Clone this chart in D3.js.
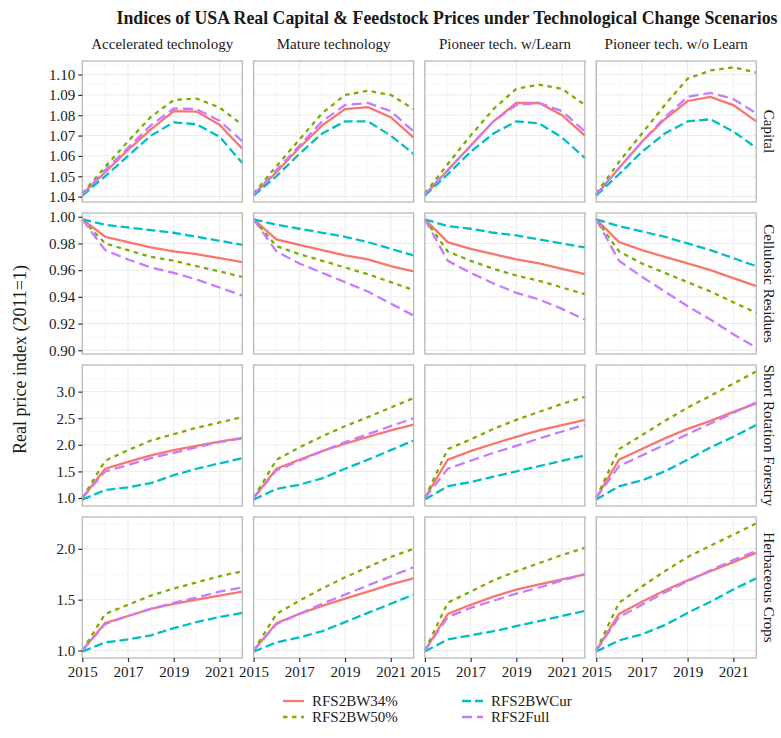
<!DOCTYPE html>
<html>
<head>
<meta charset="utf-8">
<script src="https://cdn.jsdelivr.net/npm/d3@7"></script>
<style>
  body { margin: 0; background: #fff; }
  svg text { font-family: "Liberation Serif", "Times New Roman", serif; fill: #1a1a1a; }
</style>
</head>
<body>
<div id="chart"></div>
<script>

let years = [2015, 2016, 2017, 2018, 2019, 2020, 2021, 2022];
let techs = ["Accelerated technology", "Mature technology", "Pioneer tech. w/Learn", "Pioneer tech. w/o Learn"];
let feeds = ["Capital", "Cellulosic Residues", "Short Rotation Forestry", "Herbaceous Crops"];
let scenarios = ["RFS2BW34%", "RFS2BW50%", "RFS2BWCur", "RFS2Full"];
let xticks = [2015, 2017, 2019, 2021];
let yticks = [
  [1.04, 1.05, 1.06, 1.07, 1.08, 1.09, 1.10],
  [0.90, 0.92, 0.94, 0.96, 0.98, 1.00],
  [1.0, 1.5, 2.0, 2.5, 3.0],
  [1.0, 1.5, 2.0]
];
let ytickfmt = [".2f", ".2f", ".1f", ".1f"];

// values[feed][tech][scenario] -> one value per year
let capital = [
  [[1.0408, 1.052, 1.063, 1.073, 1.082, 1.0818, 1.0753, 1.0635],
   [1.0415, 1.0546, 1.0672, 1.0792, 1.0875, 1.0882, 1.0838, 1.0753],
   [1.0405, 1.050, 1.060, 1.070, 1.0765, 1.0755, 1.0695, 1.0565],
   [1.041, 1.053, 1.064, 1.075, 1.0833, 1.083, 1.0773, 1.0672]],
  [[1.0408, 1.052, 1.064, 1.075, 1.083, 1.084, 1.079, 1.069],
   [1.0415, 1.055, 1.068, 1.081, 1.090, 1.092, 1.090, 1.083],
   [1.0405, 1.050, 1.061, 1.071, 1.077, 1.077, 1.070, 1.061],
   [1.041, 1.053, 1.065, 1.077, 1.085, 1.086, 1.082, 1.072]],
  [[1.0408, 1.053, 1.065, 1.077, 1.086, 1.086, 1.080, 1.070],
   [1.0415, 1.056, 1.070, 1.083, 1.093, 1.095, 1.093, 1.085],
   [1.0405, 1.051, 1.062, 1.071, 1.077, 1.076, 1.069, 1.059],
   [1.041, 1.053, 1.065, 1.077, 1.085, 1.086, 1.082, 1.072]],
  [[1.0408, 1.054, 1.067, 1.078, 1.087, 1.089, 1.085, 1.077],
   [1.0415, 1.057, 1.071, 1.085, 1.098, 1.102, 1.1035, 1.101],
   [1.0405, 1.051, 1.062, 1.071, 1.077, 1.078, 1.072, 1.064],
   [1.041, 1.054, 1.067, 1.079, 1.089, 1.091, 1.088, 1.081]]
];
let residues = [
  [[0.998, 0.985, 0.981, 0.977, 0.974, 0.972, 0.969, 0.966],
   [0.998, 0.980, 0.975, 0.970, 0.967, 0.963, 0.959, 0.955],
   [0.998, 0.994, 0.992, 0.990, 0.988, 0.985, 0.982, 0.979],
   [0.998, 0.975, 0.968, 0.962, 0.958, 0.953, 0.947, 0.941]],
  [[0.998, 0.983, 0.979, 0.975, 0.971, 0.968, 0.963, 0.959],
   [0.998, 0.978, 0.972, 0.967, 0.962, 0.957, 0.951, 0.945],
   [0.998, 0.994, 0.991, 0.988, 0.985, 0.981, 0.976, 0.971],
   [0.998, 0.974, 0.965, 0.958, 0.951, 0.944, 0.935, 0.926]],
  [[0.998, 0.981, 0.976, 0.972, 0.968, 0.965, 0.961, 0.957],
   [0.998, 0.974, 0.967, 0.961, 0.956, 0.952, 0.947, 0.942],
   [0.998, 0.993, 0.991, 0.988, 0.986, 0.983, 0.980, 0.977],
   [0.998, 0.967, 0.958, 0.950, 0.943, 0.938, 0.931, 0.923]],
  [[0.998, 0.981, 0.975, 0.970, 0.965, 0.960, 0.954, 0.948],
   [0.998, 0.974, 0.965, 0.958, 0.951, 0.944, 0.936, 0.928],
   [0.998, 0.993, 0.989, 0.985, 0.980, 0.975, 0.969, 0.963],
   [0.998, 0.967, 0.955, 0.944, 0.933, 0.923, 0.912, 0.902]]
];
let forestry = [
  [[1.0, 1.55, 1.68, 1.80, 1.90, 1.98, 2.06, 2.13],
   [1.0, 1.70, 1.90, 2.08, 2.20, 2.32, 2.42, 2.52],
   [0.97, 1.15, 1.20, 1.28, 1.43, 1.55, 1.65, 1.75],
   [1.0, 1.50, 1.62, 1.75, 1.85, 1.95, 2.05, 2.12]],
  [[1.0, 1.55, 1.72, 1.88, 2.02, 2.15, 2.27, 2.38],
   [1.0, 1.72, 1.95, 2.16, 2.35, 2.52, 2.70, 2.88],
   [0.97, 1.17, 1.25, 1.37, 1.55, 1.72, 1.90, 2.08],
   [1.0, 1.52, 1.70, 1.88, 2.05, 2.20, 2.35, 2.50]],
  [[1.0, 1.72, 1.88, 2.02, 2.15, 2.27, 2.37, 2.47],
   [1.0, 1.92, 2.10, 2.30, 2.47, 2.62, 2.77, 2.90],
   [0.97, 1.22, 1.30, 1.40, 1.50, 1.60, 1.70, 1.80],
   [1.0, 1.55, 1.70, 1.85, 1.98, 2.12, 2.25, 2.38]],
  [[1.0, 1.72, 1.92, 2.12, 2.30, 2.45, 2.62, 2.78],
   [1.0, 1.92, 2.18, 2.45, 2.70, 2.92, 3.15, 3.38],
   [0.97, 1.22, 1.33, 1.50, 1.72, 1.95, 2.15, 2.37],
   [1.0, 1.60, 1.80, 2.00, 2.20, 2.40, 2.60, 2.80]]
];
let herbaceous = [
  [[1.0, 1.27, 1.34, 1.41, 1.46, 1.50, 1.54, 1.58],
   [1.0, 1.36, 1.45, 1.54, 1.61, 1.67, 1.73, 1.78],
   [0.99, 1.08, 1.11, 1.15, 1.22, 1.28, 1.33, 1.37],
   [1.0, 1.26, 1.34, 1.41, 1.47, 1.52, 1.58, 1.62]],
  [[1.0, 1.27, 1.36, 1.44, 1.51, 1.58, 1.65, 1.71],
   [1.0, 1.36, 1.49, 1.61, 1.72, 1.82, 1.92, 2.00],
   [0.99, 1.08, 1.13, 1.19, 1.28, 1.37, 1.46, 1.55],
   [1.0, 1.26, 1.36, 1.46, 1.55, 1.64, 1.73, 1.82]],
  [[1.0, 1.36, 1.45, 1.53, 1.60, 1.65, 1.70, 1.75],
   [1.0, 1.47, 1.58, 1.69, 1.78, 1.86, 1.94, 2.01],
   [0.99, 1.11, 1.15, 1.19, 1.24, 1.29, 1.34, 1.39],
   [1.0, 1.33, 1.42, 1.49, 1.56, 1.62, 1.69, 1.75]],
  [[1.0, 1.36, 1.48, 1.59, 1.69, 1.78, 1.87, 1.96],
   [1.0, 1.47, 1.63, 1.78, 1.92, 2.03, 2.14, 2.25],
   [0.99, 1.10, 1.16, 1.25, 1.37, 1.48, 1.60, 1.71],
   [1.0, 1.33, 1.45, 1.57, 1.68, 1.79, 1.89, 1.98]]
];
let values = [capital, residues, forestry, herbaceous];

let colors = ["#F8766D", "#7CAE00", "#00BFC4", "#C77CFF"];
let dashes = [null, "4.5,4.5", "9,4", "10,5"];

// layout
let W = 781, H = 738;
let panelW = 160, panelH = 141;
let gapX = 11.3, gapY = 11;
let left0 = 82.3, top0 = 61;

let svg = d3.select("#chart").append("svg")
  .attr("width", W)
  .attr("height", H);

let x = d3.scaleLinear().domain([2015, 2022]).range([0, panelW]);

let line = d3.line()
  .x(function(d, i) { return x(years[i]); })
  .y(function(d) { return d; });

// title
svg.append("text")
  .attr("x", 447)
  .attr("y", 24)
  .attr("text-anchor", "middle")
  .style("font-size", "17.8px")
  .style("font-weight", "bold")
  .text("Indices of USA Real Capital & Feedstock Prices under Technological Change Scenarios");

// column strips
techs.forEach(function(t, c) {
  svg.append("text")
    .attr("x", left0 + c * (panelW + gapX) + panelW / 2)
    .attr("y", 49)
    .attr("text-anchor", "middle")
    .style("font-size", "15px")
    .text(t);
});

feeds.forEach(function(f, r) {

  let vals = values[r];
  let all = d3.merge(d3.merge(vals));
  let lo = d3.min(all), hi = d3.max(all);
  let pad = (hi - lo) * 0.05;
  let y = d3.scaleLinear().domain([lo - pad, hi + pad]).range([panelH, 0]);
  let ty = top0 + r * (panelH + gapY);

  // row strip
  svg.append("text")
    .attr("transform", "translate(" + (left0 + 3 * (panelW + gapX) + panelW + 13) + "," + (ty + panelH / 2) + ") rotate(90)")
    .attr("text-anchor", "middle")
    .attr("dy", "0.35em")
    .style("font-size", "15px")
    .text(f);

  techs.forEach(function(t, c) {
    let tx = left0 + c * (panelW + gapX);
    let g = svg.append("g").attr("transform", "translate(" + tx + "," + ty + ")");

    // minor grid
    let ymaj = yticks[r];
    let ystep = ymaj[1] - ymaj[0];
    let yminor = [];
    for (let v = ymaj[0] - ystep / 2; v <= y.domain()[1]; v += ystep) {
      if (v >= y.domain()[0]) yminor.push(v);
    }
    let xminor = [2016, 2018, 2020, 2022];

    g.selectAll(".ymin").data(yminor).enter().append("line")
      .attr("x1", 0).attr("x2", panelW)
      .attr("y1", function(d) { return y(d); })
      .attr("y2", function(d) { return y(d); })
      .attr("stroke", "#f3f3f3").attr("stroke-width", 0.6);
    g.selectAll(".xmin").data(xminor).enter().append("line")
      .attr("y1", 0).attr("y2", panelH)
      .attr("x1", function(d) { return x(d); })
      .attr("x2", function(d) { return x(d); })
      .attr("stroke", "#f3f3f3").attr("stroke-width", 0.6);
    g.selectAll(".ymaj").data(ymaj).enter().append("line")
      .attr("x1", 0).attr("x2", panelW)
      .attr("y1", function(d) { return y(d); })
      .attr("y2", function(d) { return y(d); })
      .attr("stroke", "#ebebeb").attr("stroke-width", 1);
    g.selectAll(".xmaj").data(xticks).enter().append("line")
      .attr("y1", 0).attr("y2", panelH)
      .attr("x1", function(d) { return x(d); })
      .attr("x2", function(d) { return x(d); })
      .attr("stroke", "#ebebeb").attr("stroke-width", 1);

    // series
    vals[c].forEach(function(s, k) {
      g.append("path")
        .datum(s.map(function(v) { return y(v); }))
        .attr("d", line)
        .attr("fill", "none")
        .attr("stroke", colors[k])
        .attr("stroke-width", 2.3)
        .attr("stroke-dasharray", dashes[k]);
    });

    // border
    g.append("rect")
      .attr("width", panelW).attr("height", panelH)
      .attr("fill", "none")
      .attr("stroke", "#b3b3b3").attr("stroke-width", 1.2);

    if (c == 0) {
      let ax = g.append("g")
        .call(d3.axisLeft(y).tickValues(ymaj).tickFormat(d3.format(ytickfmt[r])).tickSize(4).tickPadding(3));
      ax.select(".domain").remove();
      ax.selectAll(".tick line").attr("stroke", "#333").attr("stroke-width", 1.2);
      ax.selectAll(".tick text").style("font-size", "15px").attr("fill", "#1a1a1a")
        .style("font-family", "Liberation Serif");
    }
    if (r == 3) {
      let ax = g.append("g")
        .attr("transform", "translate(0," + panelH + ")")
        .call(d3.axisBottom(x).tickValues(xticks).tickFormat(d3.format("d")).tickSize(4).tickPadding(4));
      ax.select(".domain").remove();
      ax.selectAll(".tick line").attr("stroke", "#333").attr("stroke-width", 1.2);
      ax.selectAll(".tick text").style("font-size", "15px").attr("fill", "#1a1a1a")
        .style("font-family", "Liberation Serif");
    }
  });
});

// y axis title
svg.append("text")
  .attr("transform", "translate(26," + (top0 + 2 * panelH + 1.5 * gapY) + ") rotate(-90)")
  .attr("text-anchor", "middle")
  .style("font-size", "18px")
  .text("Real price index (2011=1)");

// legend
let legendpos = [
  {x: 283, y: 701}, {x: 283, y: 717}, {x: 462, y: 701}, {x: 462, y: 717}
];
scenarios.forEach(function(s, k) {
  let p = legendpos[k];
  svg.append("line")
    .attr("x1", p.x).attr("x2", p.x + 21)
    .attr("y1", p.y).attr("y2", p.y)
    .attr("stroke", colors[k]).attr("stroke-width", 2.3)
    .attr("stroke-dasharray", dashes[k]);
  svg.append("text")
    .attr("x", p.x + 29).attr("y", p.y)
    .attr("dy", "0.35em")
    .style("font-size", "15px")
    .text(s);
});

</script>
</body>
</html>
